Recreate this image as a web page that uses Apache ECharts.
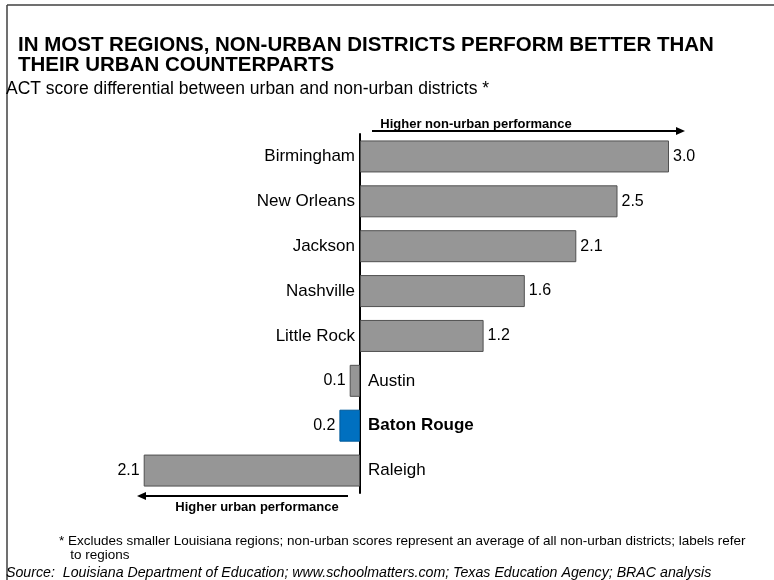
<!DOCTYPE html>
<html>
<head>
<meta charset="utf-8">
<script src="https://cdn.jsdelivr.net/npm/echarts@6/dist/echarts.min.js"></script>
<style>html,body{margin:0;padding:0;background:#fff;}#chart{width:774px;height:580px;}</style>
</head>
<body>
<div id="chart"></div>
<script>
var categories = ['Birmingham', 'New Orleans', 'Jackson', 'Nashville', 'Little Rock', 'Austin', 'Baton Rouge', 'Raleigh'];
var differential = [3.0, 2.5, 2.1, 1.6, 1.2, -0.1, -0.2, -2.1];
var highlight = ['Baton Rouge'];

var titleText = 'IN MOST REGIONS, NON-URBAN DISTRICTS PERFORM BETTER THAN\nTHEIR URBAN COUNTERPARTS';
var subtitleText = 'ACT score differential between urban and non-urban districts *';
var footnoteText = '* Excludes smaller Louisiana regions; non-urban scores represent an average of all non-urban districts; labels refer\n   to regions';
var sourceText = 'Source:  Louisiana Department of Education; www.schoolmatters.com; Texas Education Agency; BRAC analysis';
var topArrowText = 'Higher non-urban performance';
var bottomArrowText = 'Higher urban performance';

var FONT = '"Liberation Sans", Arial, Helvetica, sans-serif';
var GRAY = '#969696', BLUE = '#0070C0', EDGE = '#505050';

var valueData = differential.map(function (v, i) {
  var hl = highlight.indexOf(categories[i]) >= 0;
  return {
    value: v,
    itemStyle: { color: hl ? BLUE : GRAY, borderColor: hl ? '#005A9A' : EDGE, borderWidth: 1 },
    label: { position: v >= 0 ? 'right' : 'left', distance: 4 }
  };
});
var nameData = differential.map(function (v, i) {
  var hl = highlight.indexOf(categories[i]) >= 0;
  return {
    value: v,
    label: { position: v >= 0 ? 'left' : 'right', distance: v >= 0 ? 5 : 8, fontWeight: hl ? 'bold' : 'normal' }
  };
});

var chart = echarts.init(document.getElementById('chart'), null, { renderer: 'canvas' });
chart.setOption({
  animation: false,
  backgroundColor: '#ffffff',
  textStyle: { fontFamily: FONT },
  title: [
    { text: titleText, left: 18, top: 35, padding: 0, textStyle: { fontFamily: FONT, fontSize: 20.5, fontWeight: 'bold', color: '#000', lineHeight: 20 } },
    { text: subtitleText, left: 6, top: 80, padding: 0, textStyle: { fontFamily: FONT, fontSize: 17.5, fontWeight: 'normal', color: '#000', lineHeight: 18 } },
    { text: footnoteText, left: 59, top: 534, padding: 0, textStyle: { fontFamily: FONT, fontSize: 13.5, fontWeight: 'normal', color: '#000', lineHeight: 14 } },
    { text: sourceText, left: 6, top: 566, padding: 0, textStyle: { fontFamily: FONT, fontSize: 14.2, fontWeight: 'normal', fontStyle: 'italic', color: '#000', lineHeight: 15 } }
  ],
  grid: { left: 102.5, width: 618, top: 134, height: 359, containLabel: false },
  xAxis: {
    type: 'value', min: -2.5, max: 3.5,
    show: false, splitLine: { show: false }
  },
  yAxis: {
    type: 'category', data: categories, inverse: true,
    axisLine: { show: true, onZero: true, lineStyle: { color: '#000', width: 2 } },
    axisTick: { show: false }, axisLabel: { show: false }, splitLine: { show: false }
  },
  series: [
    {
      type: 'bar', data: valueData, barWidth: 32, barGap: '-100%',
      label: {
        show: true, fontFamily: FONT, fontSize: 16, color: '#000',
        formatter: function (p) { return Math.abs(p.value).toFixed(1); }
      }
    },
    {
      type: 'bar', data: nameData, barWidth: 32, barGap: '-100%',
      itemStyle: { color: 'rgba(0,0,0,0)' }, silent: true,
      label: {
        show: true, fontFamily: FONT, fontSize: 17, color: '#000',
        formatter: function (p) { return categories[p.dataIndex]; }
      }
    }
  ],
  graphic: [
    { type: 'line', shape: { x1: 7, y1: 5, x2: 774, y2: 5 }, style: { stroke: '#404040', lineWidth: 1.5 } },
    { type: 'line', shape: { x1: 7, y1: 5, x2: 7, y2: 580 }, style: { stroke: '#404040', lineWidth: 1.5 } },
    { type: 'line', shape: { x1: 372, y1: 131, x2: 678, y2: 131 }, style: { stroke: '#000', lineWidth: 2 } },
    { type: 'polygon', shape: { points: [[685, 131], [676, 127], [676, 135]] }, style: { fill: '#000' } },
    { type: 'text', x: 476, y: 124, style: { text: topArrowText, font: 'bold 13px ' + FONT, fill: '#000', textAlign: 'center', textVerticalAlign: 'middle' } },
    { type: 'line', shape: { x1: 348, y1: 496, x2: 144, y2: 496 }, style: { stroke: '#000', lineWidth: 2 } },
    { type: 'polygon', shape: { points: [[137, 496], [146, 492], [146, 500]] }, style: { fill: '#000' } },
    { type: 'text', x: 257, y: 507, style: { text: bottomArrowText, font: 'bold 13px ' + FONT, fill: '#000', textAlign: 'center', textVerticalAlign: 'middle' } }
  ]
});
</script>
</body>
</html>
